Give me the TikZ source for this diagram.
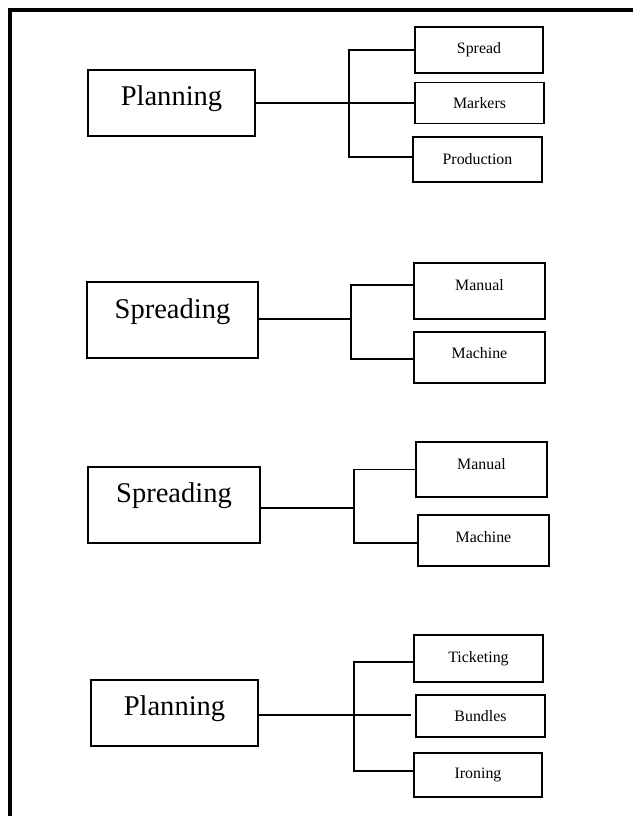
\documentclass[tikz,border=0pt]{standalone}
\usepackage{fontspec}
\setmainfont{Liberation Serif}
\usepackage{xcolor}
\usepackage{tikz}
\usetikzlibrary{positioning, calc}

\begin{document}
\begin{tikzpicture}[
    mainbox/.style={draw, line width=1.3pt, font=\fontsize{20.3pt}{24pt}\selectfont, inner sep=0pt},
    subbox/.style={draw, line width=1.3pt, font=\fontsize{11.3pt}{13pt}\selectfont, inner sep=0pt},
    link/.style={line width=1.2pt}
]
    \useasboundingbox (0,0) rectangle (15.825,-20.4);
    % Frame
    \draw[line width=0.1cm] (0.25,-20.6) -- (0.25,-0.25) -- (16.0,-0.25);

    % Planning
    \node[mainbox, minimum width=4.175cm, minimum height=1.65cm, text depth=0.355cm] (plan1) at (4.2875,-2.575) {Planning};
    \node[subbox, minimum width=3.2cm, minimum height=1.15cm] (spread) at (11.975,-1.25) {Spread};
    \node[subbox, minimum width=3.225cm, minimum height=1.025cm] (markers) at (11.9875,-2.575) {Markers};
    \node[subbox, minimum width=3.225cm, minimum height=1.125cm] (prod) at (11.9375,-3.9875) {Production};
    \coordinate (j1) at (8.725,-2.575);
    \draw[link] (plan1.east) -- (markers.west);
    \draw[link] (spread.west) -| (j1) |- ([yshift=0.06cm]prod.west);

    % Spreading
    \node[mainbox, minimum width=4.275cm, minimum height=1.9cm, text depth=0.555cm] (spr1) at (4.3125,-8.0) {Spreading};
    \node[subbox, minimum width=3.275cm, minimum height=1.4cm, text depth=0.3cm] (manual1) at (11.9875,-7.275) {Manual};
    \node[subbox, minimum width=3.275cm, minimum height=1.275cm, text depth=0.22cm] (machine1) at (11.9875,-8.9375) {Machine};
    \coordinate (j2) at (8.775,-7.975);
    \draw[link] (spr1.east |- j2) -- (j2);
    \draw[link] ([yshift=0.15cm]manual1.west) -| (j2) |- ([yshift=-0.04cm]machine1.west);

    % Spreading
    \node[mainbox, minimum width=4.3cm, minimum height=1.9cm, text depth=0.605cm] (spr2) at (4.35,-12.625) {Spreading};
    \node[subbox, minimum width=3.275cm, minimum height=1.375cm, text depth=0.28cm] (manual2) at (12.0375,-11.7375) {Manual};
    \node[subbox, minimum width=3.275cm, minimum height=1.275cm, text depth=0.18cm] (machine2) at (12.0875,-13.5125) {Machine};
    \coordinate (j3) at (8.85,-12.7);
    \draw[link] (spr2.east |- j3) -- (j3);
    \draw[link] (manual2.west) -| (j3) |- ([yshift=-0.06cm]machine2.west);

    % Planning
    \node[mainbox, minimum width=4.175cm, minimum height=1.65cm, text depth=0.355cm] (plan2) at (4.3625,-17.825) {Planning};
    \node[subbox, minimum width=3.225cm, minimum height=1.175cm] (ticket) at (11.9625,-16.4625) {Ticketing};
    \node[subbox, minimum width=3.225cm, minimum height=1.05cm] (bundles) at (12.0125,-17.9) {Bundles};
    \node[subbox, minimum width=3.2cm, minimum height=1.1cm] (ironing) at (11.95,-19.375) {Ironing};
    \coordinate (j4) at (8.85,-17.875);
    \draw[link] (plan2.east |- j4) -- ([xshift=-0.1cm]bundles.west |- j4);
    \draw[link] ([yshift=-0.09cm]ticket.west) -| (j4) |- ([yshift=0.1cm]ironing.west);
\end{tikzpicture}
\end{document}
